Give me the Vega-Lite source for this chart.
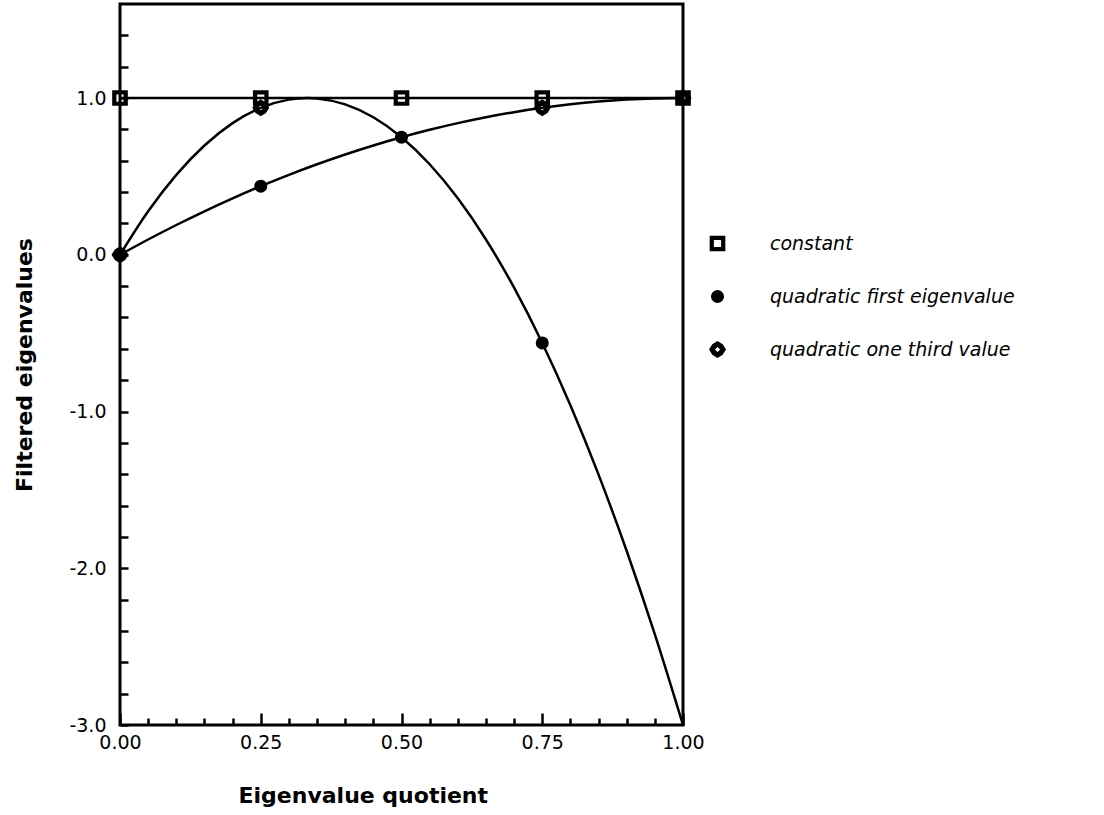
{
  "$schema": "https://vega.github.io/schema/vega-lite/v6.json",
  "autosize": "none",
  "padding": {"left": 120, "top": 4, "right": 421, "bottom": 90},
  "width": 563,
  "height": 721,
  "background": "white",
  "config": {
    "view": {"stroke": "black", "strokeWidth": 3},
    "font": "DejaVu Sans",
    "axis": {"domain": false, "grid": false, "tickColor": "black", "tickWidth": 2.5, "labelColor": "black", "titleColor": "black", "labelFont": "DejaVu Sans", "titleFont": "DejaVu Sans", "labelFontSize": 19, "titleFontSize": 22, "titleFontWeight": "bold", "labelFlush": false, "labelOverlap": false}
  },
  "datasets": {
    "curves": [
      {"series": "constant", "x": 0, "y": 1}, {"series": "constant", "x": 1, "y": 1},
      {"series": "quadratic first eigenvalue", "x": 0, "y": 0},
      {"series": "quadratic first eigenvalue", "x": 0.05, "y": 0.2775},
      {"series": "quadratic first eigenvalue", "x": 0.1, "y": 0.51},
      {"series": "quadratic first eigenvalue", "x": 0.15, "y": 0.6975},
      {"series": "quadratic first eigenvalue", "x": 0.2, "y": 0.84},
      {"series": "quadratic first eigenvalue", "x": 0.25, "y": 0.9375},
      {"series": "quadratic first eigenvalue", "x": 0.3, "y": 0.99},
      {"series": "quadratic first eigenvalue", "x": 0.3333, "y": 1.0},
      {"series": "quadratic first eigenvalue", "x": 0.35, "y": 0.9975},
      {"series": "quadratic first eigenvalue", "x": 0.4, "y": 0.96},
      {"series": "quadratic first eigenvalue", "x": 0.45, "y": 0.8775},
      {"series": "quadratic first eigenvalue", "x": 0.5, "y": 0.75},
      {"series": "quadratic first eigenvalue", "x": 0.55, "y": 0.5775},
      {"series": "quadratic first eigenvalue", "x": 0.6, "y": 0.36},
      {"series": "quadratic first eigenvalue", "x": 0.65, "y": 0.0975},
      {"series": "quadratic first eigenvalue", "x": 0.7, "y": -0.21},
      {"series": "quadratic first eigenvalue", "x": 0.75, "y": -0.5625},
      {"series": "quadratic first eigenvalue", "x": 0.8, "y": -0.96},
      {"series": "quadratic first eigenvalue", "x": 0.85, "y": -1.4025},
      {"series": "quadratic first eigenvalue", "x": 0.9, "y": -1.89},
      {"series": "quadratic first eigenvalue", "x": 0.95, "y": -2.4225},
      {"series": "quadratic first eigenvalue", "x": 1.0, "y": -3.0},
      {"series": "quadratic one third value", "x": 0, "y": 0},
      {"series": "quadratic one third value", "x": 0.05, "y": 0.0975},
      {"series": "quadratic one third value", "x": 0.1, "y": 0.19},
      {"series": "quadratic one third value", "x": 0.15, "y": 0.2775},
      {"series": "quadratic one third value", "x": 0.2, "y": 0.36},
      {"series": "quadratic one third value", "x": 0.25, "y": 0.4375},
      {"series": "quadratic one third value", "x": 0.3, "y": 0.51},
      {"series": "quadratic one third value", "x": 0.35, "y": 0.5775},
      {"series": "quadratic one third value", "x": 0.4, "y": 0.64},
      {"series": "quadratic one third value", "x": 0.45, "y": 0.6975},
      {"series": "quadratic one third value", "x": 0.5, "y": 0.75},
      {"series": "quadratic one third value", "x": 0.55, "y": 0.7975},
      {"series": "quadratic one third value", "x": 0.6, "y": 0.84},
      {"series": "quadratic one third value", "x": 0.65, "y": 0.8775},
      {"series": "quadratic one third value", "x": 0.7, "y": 0.91},
      {"series": "quadratic one third value", "x": 0.75, "y": 0.9375},
      {"series": "quadratic one third value", "x": 0.8, "y": 0.96},
      {"series": "quadratic one third value", "x": 0.85, "y": 0.9775},
      {"series": "quadratic one third value", "x": 0.9, "y": 0.99},
      {"series": "quadratic one third value", "x": 0.95, "y": 0.9975},
      {"series": "quadratic one third value", "x": 1.0, "y": 1.0}
    ],
    "markers": [
      {"series": "constant", "x": 0, "y": 1},
      {"series": "constant", "x": 0.25, "y": 1},
      {"series": "constant", "x": 0.5, "y": 1},
      {"series": "constant", "x": 0.75, "y": 1},
      {"series": "constant", "x": 1, "y": 1},
      {"series": "quadratic first eigenvalue", "x": 0, "y": 0},
      {"series": "quadratic first eigenvalue", "x": 0.25, "y": 0.4375},
      {"series": "quadratic first eigenvalue", "x": 0.5, "y": 0.75},
      {"series": "quadratic first eigenvalue", "x": 0.75, "y": -0.5625},
      {"series": "quadratic one third value", "x": 0, "y": 0},
      {"series": "quadratic one third value", "x": 0.25, "y": 0.9375},
      {"series": "quadratic one third value", "x": 0.75, "y": 0.9375},
      {"series": "quadratic one third value", "x": 1, "y": 1}
    ]
  },
  "resolve": {"axis": {"x": "independent", "y": "independent"}},
  "layer": [
    {
      "data": {"name": "curves"},
      "mark": {"type": "line", "color": "black", "strokeWidth": 2.5, "interpolate": "monotone", "clip": true},
      "encoding": {
        "x": {"field": "x", "type": "quantitative", "scale": {"domain": [0, 1], "nice": false, "zero": false},
          "axis": {"orient": "bottom", "values": [0.05,0.1,0.15,0.2,0.3,0.35,0.4,0.45,0.55,0.6,0.65,0.7,0.8,0.85,0.9,0.95], "tickSize": -7, "labels": false, "title": null}},
        "y": {"field": "y", "type": "quantitative", "scale": {"domain": [-3, 1.6], "nice": false, "zero": false},
          "axis": {"orient": "left", "values": [-2.8,-2.6,-2.4,-2.2,-1.8,-1.6,-1.4,-1.2,-0.8,-0.6,-0.4,-0.2,0.2,0.4,0.6,0.8,1.2,1.4],
            "tickSize": -8, "labels": false, "title": null}},
        "detail": {"field": "series"}
      }
    },
    {
      "data": {"name": "markers"},
      "mark": {"type": "point", "filled": true, "fill": "black", "strokeWidth": 0, "opacity": 1},
      "encoding": {
        "x": {"field": "x", "type": "quantitative", "scale": {"domain": [0, 1], "nice": false, "zero": false},
          "axis": {"orient": "bottom", "values": [0, 0.25, 0.5, 0.75, 1], "format": ".2f", "tickSize": -12, "labelPadding": 20, "title": "Eigenvalue quotient", "titlePadding": 33, "titleAlign": "left", "titleAnchor": null, "titleX": 118}},
        "y": {"field": "y", "type": "quantitative", "scale": {"domain": [-3, 1.6], "nice": false, "zero": false},
          "axis": {"orient": "left", "values": [-3, -2, -1, 0, 1], "tickSize": -8, "labelPadding": 22, "labelExpr": "replace(format(datum.value, '.1f'), '\u2212', '-')", "title": "Filtered  eigenvalues", "titlePadding": 32}},
        "shape": {"field": "series", "type": "nominal",
          "scale": {"domain": ["constant", "quadratic first eigenvalue", "quadratic one third value"],
            "range": ["M-1.2,-1.2L1.2,-1.2L1.2,1.2L-1.2,1.2Z M-0.55,-0.55L-0.55,0.55L0.55,0.55L0.55,-0.55Z", "circle", "M0,-1.3L0.8,-0.8L1.3,0L0.8,0.8L0,1.3L-0.8,0.8L-1.3,0L-0.8,-0.8Z M0,-0.4L-0.4,0L0,0.4L0.4,0Z"]},
          "legend": {"orient": "none", "legendX": 588, "legendY": 230, "title": null, "symbolSize": 170, "symbolFillColor": "black", "symbolStrokeWidth": 0, "labelFontSize": 19, "labelFontStyle": "italic", "labelFont": "DejaVu Sans", "labelColor": "black", "labelOffset": 43, "labelLimit": 0, "rowPadding": 33, "symbolOpacity": 1}},
        "size": {"value": 170}
      }
    }
  ]
}
